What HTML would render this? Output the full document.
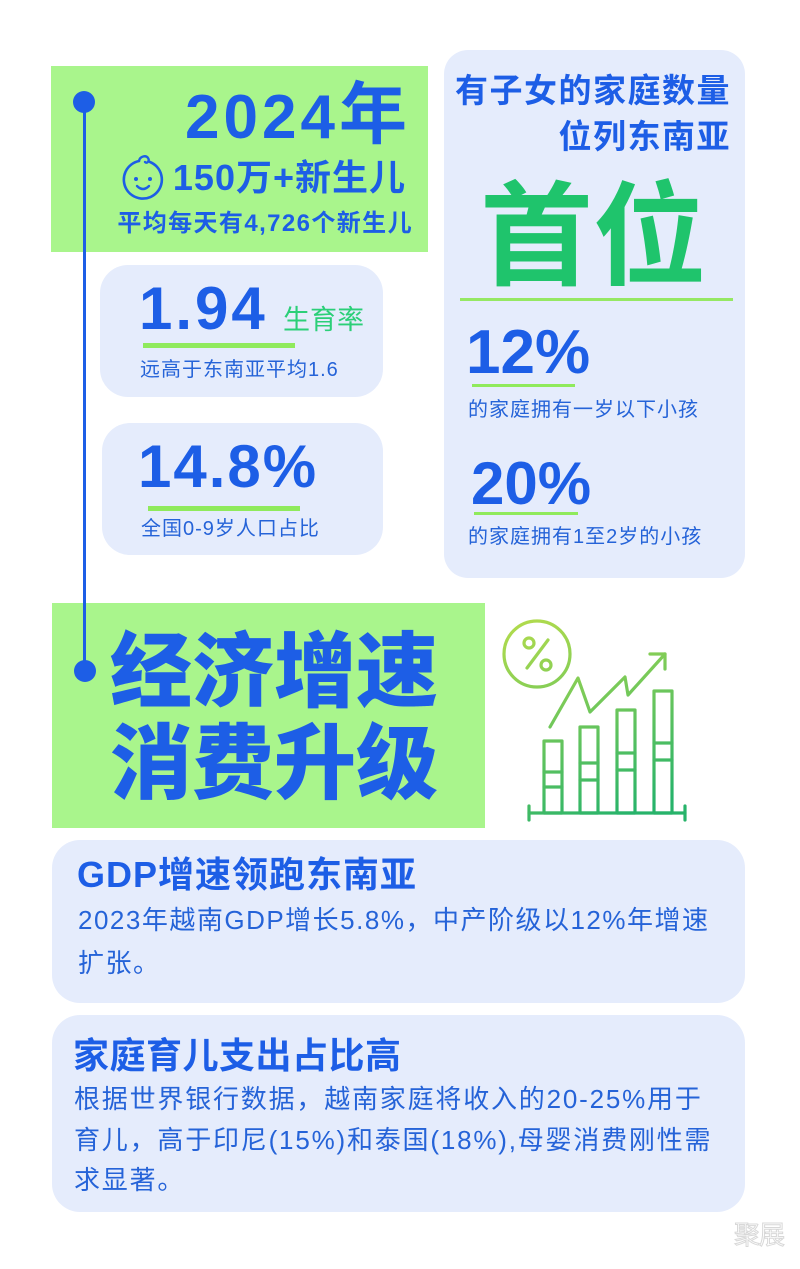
<!DOCTYPE html>
<html>
<head>
<meta charset="utf-8">
<style>
  html,body{margin:0;padding:0;}
  body{width:800px;height:1269px;position:relative;background:#ffffff;overflow:hidden;
    font-family:"Liberation Sans","Noto Sans CJK SC",sans-serif;color:#1d5ee6;}
  .abs{position:absolute;}
  .t{position:absolute;line-height:1;white-space:nowrap;}
  .green{background:#a9f58c;}
  .card{background:#e5ecfc;}
  .ul{position:absolute;background:#8fea5c;}
  .b{font-weight:700;}
</style>
</head>
<body>

<!-- top green box -->
<div class="abs green" style="left:51px;top:66px;width:377px;height:186px;"></div>
<!-- second green box -->
<div class="abs green" style="left:52px;top:603px;width:433px;height:225px;"></div>

<!-- right card -->
<div class="abs card" style="left:444px;top:50px;width:301px;height:528px;border-radius:24px;"></div>
<!-- 1.94 card -->
<div class="abs card" style="left:100px;top:265px;width:283px;height:132px;border-radius:28px;"></div>
<!-- 14.8 card -->
<div class="abs card" style="left:102px;top:423px;width:281px;height:132px;border-radius:28px;"></div>
<!-- GDP card -->
<div class="abs card" style="left:52px;top:840px;width:693px;height:163px;border-radius:28px;"></div>
<!-- family card -->
<div class="abs card" style="left:52px;top:1015px;width:693px;height:197px;border-radius:28px;"></div>

<!-- timeline -->
<div class="abs" style="left:83px;top:102px;width:3px;height:570px;background:#1d5ee6;"></div>
<div class="abs" style="left:73px;top:91px;width:22px;height:22px;border-radius:50%;background:#1d5ee6;"></div>
<div class="abs" style="left:74px;top:660px;width:22px;height:22px;border-radius:50%;background:#1d5ee6;"></div>

<!-- 2024年 -->
<div class="t b" style="right:393px;top:81px;font-size:62px;letter-spacing:4px;text-align:right;">2024<span style="font-size:68px;letter-spacing:0;">年</span></div>

<!-- baby icon -->
<svg class="abs" style="left:118px;top:154px;" width="52" height="50" viewBox="118 154 52 50">
  <path d="M139 161 A19 19 0 1 0 150 162" fill="none" stroke="#1d5ee6" stroke-width="2.6" stroke-linecap="round"/>
  <path d="M139 161 C140 156 146 155 148 158 C150 161 147 164 145 162" fill="none" stroke="#1d5ee6" stroke-width="2.4" stroke-linecap="round"/>
  <circle cx="136" cy="179" r="2" fill="#1d5ee6"/>
  <circle cx="150" cy="179" r="2" fill="#1d5ee6"/>
  <path d="M137 186 Q143 192 149 186" fill="none" stroke="#1d5ee6" stroke-width="2.4" stroke-linecap="round"/>
</svg>
<div class="t b" style="right:394px;top:160px;font-size:36px;letter-spacing:1px;">150万+新生儿</div>
<div class="t b" style="right:387px;top:212px;font-size:24px;letter-spacing:1.4px;">平均每天有4,726个新生儿</div>

<!-- right card texts -->
<div class="t b" style="right:69px;top:74px;font-size:33px;letter-spacing:1.5px;">有子女的家庭数量</div>
<div class="t b" style="right:69px;top:120px;font-size:33px;letter-spacing:1.5px;">位列东南亚</div>
<div class="t b" style="left:480px;top:181px;font-size:113px;color:#1fc46c;">首位</div>
<div class="abs" style="left:460px;top:298px;width:273px;height:3px;background:#95e863;"></div>

<div class="t b" style="left:466px;top:322px;font-size:62px;">12%</div>
<div class="ul" style="left:472px;top:384px;width:103px;height:3px;"></div>
<div class="t" style="left:468px;top:400px;font-size:20px;letter-spacing:1px;color:#2563d8;">的家庭拥有一岁以下小孩</div>

<div class="t b" style="left:471px;top:454px;font-size:60px;">20%</div>
<div class="ul" style="left:474px;top:512px;width:104px;height:3px;"></div>
<div class="t" style="left:468px;top:527px;font-size:20px;letter-spacing:1px;color:#2563d8;">的家庭拥有1至2岁的小孩</div>

<!-- 1.94 card -->
<div class="t b" style="left:139px;top:279px;font-size:60px;letter-spacing:3px;">1.94</div>
<div class="t" style="left:283px;top:307px;font-size:27px;color:#2bcf78;">生育率</div>
<div class="ul" style="left:143px;top:343px;width:152px;height:5px;"></div>
<div class="t" style="left:140px;top:360px;font-size:20px;letter-spacing:1px;color:#2563d8;">远高于东南亚平均1.6</div>

<!-- 14.8 card -->
<div class="t b" style="left:138px;top:437px;font-size:60px;letter-spacing:2px;">14.8%</div>
<div class="ul" style="left:148px;top:506px;width:152px;height:5px;"></div>
<div class="t" style="left:141px;top:519px;font-size:20px;letter-spacing:1px;color:#2563d8;">全国0-9岁人口占比</div>

<!-- big heading -->
<div class="t" style="left:110px;top:632px;font-size:82px;font-weight:900;">经济增速</div>
<div class="t" style="left:110px;top:724px;font-size:82px;font-weight:900;">消费升级</div>

<!-- chart icon -->
<svg class="abs" style="left:0;top:0;" width="800" height="1269" viewBox="0 0 800 1269">
  <defs>
    <linearGradient id="g" gradientUnits="userSpaceOnUse" x1="520" y1="615" x2="600" y2="825">
      <stop offset="0" stop-color="#b4dc4c"/>
      <stop offset="0.5" stop-color="#72c85a"/>
      <stop offset="1" stop-color="#27b36a"/>
    </linearGradient>
  </defs>
  <g fill="none" stroke="url(#g)" stroke-width="3.2" stroke-linejoin="round" stroke-linecap="round">
    <circle cx="537" cy="654" r="33"/>
    <line x1="548" y1="640" x2="527" y2="668"/>
    <circle cx="529" cy="643" r="5"/>
    <circle cx="546" cy="665" r="5"/>
    <polyline points="550,727 578,678 590,712 625,677 628,695 665,654"/>
    <polyline points="650,654 665,654 665,669"/>
    <rect x="544" y="741" width="18" height="72"/>
    <line x1="544" y1="772" x2="562" y2="772"/>
    <line x1="544" y1="787" x2="562" y2="787"/>
    <rect x="580" y="727" width="18" height="86"/>
    <line x1="580" y1="763" x2="598" y2="763"/>
    <line x1="580" y1="780" x2="598" y2="780"/>
    <rect x="617" y="710" width="18" height="103"/>
    <line x1="617" y1="753" x2="635" y2="753"/>
    <line x1="617" y1="770" x2="635" y2="770"/>
    <rect x="654" y="691" width="18" height="122"/>
    <line x1="654" y1="743" x2="672" y2="743"/>
    <line x1="654" y1="760" x2="672" y2="760"/>
    <line x1="529" y1="813" x2="685" y2="813"/>
    <line x1="529" y1="806" x2="529" y2="820"/>
    <line x1="685" y1="806" x2="685" y2="820"/>
  </g>
</svg>

<!-- GDP card text -->
<div class="t b" style="left:77px;top:857px;font-size:36px;letter-spacing:1px;">GDP增速领跑东南亚</div>
<div class="abs" style="left:78px;top:899px;font-size:26px;line-height:43px;letter-spacing:1.5px;white-space:nowrap;color:#2563d8;">2023年越南GDP增长5.8%，中产阶级以12%年增速<br>扩张。</div>

<!-- family card text -->
<div class="t b" style="left:73px;top:1038px;font-size:36px;letter-spacing:0.5px;">家庭育儿支出占比高</div>
<div class="abs" style="left:74px;top:1079px;font-size:26px;line-height:40.5px;letter-spacing:1.8px;white-space:nowrap;color:#2563d8;">根据世界银行数据，越南家庭将收入的20-25%用于<br>育儿，高于印尼(15%)和泰国(18%),母婴消费刚性需<br>求显著。</div>

<!-- watermark -->
<div class="t" style="left:734px;top:1222px;font-size:26px;color:#ffffff;-webkit-text-stroke:1px #d8d8d8;letter-spacing:-1px;">聚展</div>

</body>
</html>
